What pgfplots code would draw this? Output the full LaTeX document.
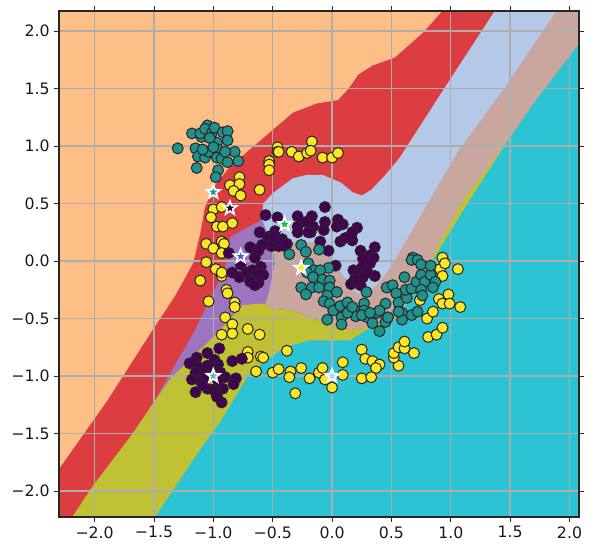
\documentclass[border=0pt]{standalone}
\usepackage{fontspec}
\setmainfont{DejaVu Sans}
\usepackage{pgfplots}
\pgfplotsset{compat=1.18}
\usepackage{pgfplotstable}

\definecolor{cOrange}{HTML}{FDBF85}
\definecolor{cRed}{HTML}{DC3D40}
\definecolor{cBlue}{HTML}{B4C8E8}
\definecolor{cPurple}{HTML}{9C74BF}
\definecolor{cPink}{HTML}{C9A69E}
\definecolor{cOlive}{HTML}{C1C136}
\definecolor{cCyan}{HTML}{2CC3D5}
\definecolor{vPurple}{HTML}{440154}
\definecolor{vTeal}{HTML}{21918C}
\definecolor{vYellow}{HTML}{FDE725}

\pgfdeclareplotmark{fstar}{%
  \pgfpathmoveto{\pgfpointpolar{90}{\pgfplotmarksize}}%
  \pgfpathlineto{\pgfpointpolar{126}{.42\pgfplotmarksize}}%
  \pgfpathlineto{\pgfpointpolar{162}{\pgfplotmarksize}}%
  \pgfpathlineto{\pgfpointpolar{198}{.42\pgfplotmarksize}}%
  \pgfpathlineto{\pgfpointpolar{234}{\pgfplotmarksize}}%
  \pgfpathlineto{\pgfpointpolar{270}{.42\pgfplotmarksize}}%
  \pgfpathlineto{\pgfpointpolar{306}{\pgfplotmarksize}}%
  \pgfpathlineto{\pgfpointpolar{342}{.42\pgfplotmarksize}}%
  \pgfpathlineto{\pgfpointpolar{18}{\pgfplotmarksize}}%
  \pgfpathlineto{\pgfpointpolar{54}{.42\pgfplotmarksize}}%
  \pgfpathclose
  \pgfusepathqfillstroke
}

\pgfplotstableread{
x y
-.46 .99
-.46 .95
-.45 .95
-.17 1.04
-.34 .95
-.28 .91
-.21 .94
-.18 .96
-.08 .90
0 .90
.05 .94
-.53 .87
-.53 .84
-.53 .79
-.78 .73
-.86 .66
-.78 .67
-.83 .61
-.77 .57
-.61 .62
-1.00 .45
-.93 .47
-1.02 .38
-.97 .30
-.92 .30
-.84 .33
-1.06 .15
-1.00 .11
-.93 .17
-.91 .15
-.93 .07
-1.06 -.01
-.98 -.07
-.93 -.13
-.93 -.10
-1.11 -.17
-.89 -.25
-.88 -.28
-1.04 -.35
-.82 -.36
-.82 -.40
-.90 -.49
-.84 -.55
-.93 -.64
-.84 -.63
-.71 -.59
-.61 -.64
-.71 -.79
-.71 -.84
-.60 -.83
-.58 -.84
-.38 -.78
-.64 -.96
-.50 -.97
-.45 -.94
-.35 -.96
-.36 -1.01
-.26 -.93
-.19 -1.02
-.11 -.97
-.08 -.93
-.06 -1.03
.09 -.88
.09 -.99
0 -1.10
-.31 -1.15
.25 -.77
.28 -.85
.34 -.87
.40 -.90
.37 -.93
.25 -1.02
.33 -1.01
.56 -.91
.52 -.84
.52 -.80
.56 -.75
.61 -.76
.61 -.70
.69 -.80
.81 -.66
.88 -.64
.93 -.58
.80 -.50
.85 -.44
.74 -.34
.90 -.33
.93 -.37
.98 -.29
.99 -.37
1.08 -.40
.91 -.07
.93 .03
.95 -.02
1.06 -.07
.93 -.13
.47 -.49
}\yellowpts

\pgfplotstableread{
x y
-.95 -.76
-1.05 -.80
-1.14 -.84
-1.20 -.89
-.84 -.87
-.76 -.85
-1.13 -.92
-1.05 -.91
-.99 -.86
-.96 -.90
-1.15 -.97
-1.09 -.97
-1.18 -1.03
-.90 -1.01
-.81 -1.02
-.83 -1.07
-1.11 -1.04
-1.07 -1.02
-1.00 -.95
-.94 -.97
-.96 -1.04
-1.05 -1.11
-1.15 -1.14
-1.00 -1.12
-.92 -1.11
-.97 -1.15
-.97 -1.18
-.93 -1.23
-1.09 -1.08
-.06 .47
-.56 .40
-.46 .38
-.29 .39
-.17 .39
-.22 .34
-.29 .30
-.29 .25
-.16 .30
-.18 .25
-.06 .34
-.07 .27
.05 .36
.04 .30
.09 .32
.21 .29
.17 .25
.07 .17
.17 .18
.11 .20
.36 .12
.24 .09
-.10 .17
-.03 .09
.03 -.04
.32 .05
.35 .03
.26 .02
.32 -.02
.36 -.13
.18 -.08
.25 -.06
.30 -.10
.21 -.12
.16 -.20
.24 -.21
.26 -.14
.19 -.16
-.48 .26
-.54 .21
-.61 .25
-.42 .19
-.50 .14
-.40 .13
-.62 .09
-.59 .14
-.65 .03
-.60 -.05
-.63 -.12
-.58 -.12
-.62 -.19
-.20 .25
-.87 .07
-.69 .12
-.63 .10
-.84 -.10
-.78 -.14
-.72 -.10
-.67 -.08
-.63 -.11
-.69 -.18
-.65 -.21
-.77 -.03
-.51 .13
-.45 .13
-.38 .15
-.49 .21
}\purplepts

\pgfplotstableread{
x y
-1.30 .98
-1.18 1.11
-1.10 1.08
-1.11 1.11
-1.05 1.18
-1.07 1.15
-1.01 1.12
-.99 1.16
-.92 1.12
-.88 1.13
-.88 1.05
-.97 1.03
-1.03 1.07
-1.15 .98
-1.13 .91
-1.07 .90
-1.04 .95
-.96 .97
-.97 .90
-.93 .89
-.88 .86
-.82 .95
-.79 .87
-1.14 .81
-.96 .79
-.98 .73
-1.09 .97
-1.00 .99
-.90 .95
-.26 .14
-.36 .06
-.22 .08
-.11 .10
-.20 -.02
-.03 -.06
-.15 -.08
-.10 -.08
-.21 -.10
-.16 -.14
-.08 -.16
-.02 -.17
-.26 -.23
-.17 -.23
-.11 -.23
-.22 -.29
-.02 -.23
.04 -.27
-.04 -.30
-.07 -.35
-.02 -.37
.01 -.43
.07 -.39
.13 -.36
.08 -.49
-.04 -.51
.08 -.55
.20 -.43
.20 -.48
.27 -.37
.27 -.43
.30 -.49
.38 -.45
.45 -.37
.34 -.54
.40 -.61
.45 -.53
.47 -.49
.29 -.27
.46 -.23
.51 -.21
.54 -.28
.56 -.36
.59 -.45
.59 -.51
.63 -.32
.62 -.25
.67 -.24
.67 -.47
.72 -.44
.61 -.14
.71 -.18
.75 -.12
.78 -.18
.83 -.12
.87 -.18
.75 -.25
.76 -.30
.85 -.23
.68 .03
.67 .01
.72 .01
.75 -.03
.83 -.04
.13 -.45
.17 -.40
.56 -.44
.25 -.47
.40 -.43
.32 -.45
}\tealpts

\begin{document}
\begin{tikzpicture}
\useasboundingbox (-44.25pt,-27.75pt) rectangle (399.75pt,387.75pt);
% decision regions, back to front
\begin{axis}[
  scale only axis, width=390pt, height=379.5pt,
  xmin=-2.3, xmax=2.08, ymin=-2.226, ymax=2.175,
  axis lines=none, clip=true,
  every axis plot/.append style={draw=none},
]
\addplot[fill=cOrange] coordinates {(-2.3,-2.226) (-2.3,2.175) (2.08,2.175) (2.08,-2.226)} -- cycle;
\addplot[fill=cRed] coordinates {(-2.30,-1.81) (-1.89,-1.21) (-1.53,-.63) (-1.32,-.30) (-1.17,-.02) (-1.11,.24) (-1.07,.47) (-1.00,.64) (-.86,.82) (-.67,.99) (-.50,1.14) (-.33,1.29) (-.13,1.37) (.05,1.40) (.14,1.50) (.22,1.62) (.34,1.70) (.53,1.77) (.77,1.99) (.93,2.175) (2.08,2.175) (2.08,-2.226) (-2.3,-2.226)} -- cycle;
\addplot[fill=cBlue] coordinates {(-.59,.38) (-.58,.50) (-.50,.59) (-.33,.72) (-.21,.75) (-.08,.75) (.08,.68) (.17,.60) (.25,.57) (.33,.62) (.45,.75) (.57,.90) (.95,1.51) (1.37,2.175) (2.08,2.175) (2.08,-.34) (-.59,-.34)} -- cycle;
\addplot[fill=cPurple] coordinates {(-1.49,-1.21) (-1.36,-.97) (-1.17,-.63) (-.99,-.25) (-.90,-.05) (-.86,.21) (-.59,.36) (-.50,.12) (-.48,-.02) (-.54,-.31) (-.56,-.37) (-.75,-.38) (-1.03,-.69)} -- cycle;
\addplot[fill=cPink] coordinates {(1.89,2.175) (2.08,2.175) (2.08,1.89) (1.69,1.36) (1.47,1.04) (1.20,.66) (1.09,.51) (.85,.05) (.68,-.37) (.57,-.45) (.29,-.58) (.15,-.60) (-.08,-.53) (-.35,-.43) (-.52,-.41) (-.56,-.37) (-.54,-.31) (-.48,-.02) (-.50,.12) (-.37,.16) (-.29,.17) (-.14,.16) (0,.03) (.07,-.10) (.21,-.28) (.28,-.30) (.32,-.25) (.40,-.19) (.49,-.06) (.57,.08) (.81,.51) (1.06,.95) (1.47,1.53)} -- cycle;
\addplot[fill=cOlive] coordinates {(-2.19,-2.226) (-2.01,-1.95) (-1.68,-1.50) (-1.49,-1.21) (-1.36,-1.02) (-1.03,-.69) (-.75,-.38) (-.56,-.37) (-.52,-.41) (-.35,-.43) (-.08,-.53) (.15,-.60) (.29,-.58) (.57,-.45) (.68,-.37) (.85,.05) (1.09,.51) (1.20,.66) (1.47,1.04) (1.69,1.36) (2.08,1.89) (2.08,-2.226)} -- cycle;
\addplot[fill=cCyan] coordinates {(-1.49,-2.226) (-1.11,-1.64) (-.93,-1.38) (-.69,-.97) (-.52,-.84) (-.40,-.75) (-.19,-.69) (.15,-.69) (.32,-.58) (.51,-.53) (.68,-.31) (.85,.01) (1.16,.53) (1.47,1.03) (1.69,1.36) (2.08,1.89) (2.08,-2.226)} -- cycle;
\end{axis}
% grid, frame, ticks and samples
\begin{axis}[
  scale only axis, width=390pt, height=379.5pt,
  xmin=-2.3, xmax=2.08, ymin=-2.226, ymax=2.175,
  axis background/.style={fill=none},
  axis line style={draw=black!85, line width=.9pt},
  grid=major, grid style={color=black!32, line width=1pt},
  tick align=outside, major tick length=3.5pt,
  tick style={color=black!85, line width=.6pt},
  xtick={-2,-1.5,-1,-.5,0,.5,1,1.5,2},
  ytick={-2,-1.5,-1,-.5,0,.5,1,1.5,2},
  xticklabels={−2.0,−1.5,−1.0,−0.5,0.0,0.5,1.0,1.5,2.0},
  yticklabels={−2.0,−1.5,−1.0,−0.5,0.0,0.5,1.0,1.5,2.0},
  tick label style={font=\fontsize{11.8pt}{13pt}\selectfont, color=black!90},
  clip=true,
]
\addplot[only marks, mark=*, mark size=4.1pt, mark options={fill=vYellow, draw=black!85, line width=.75pt}] table[x=x,y=y] {\yellowpts};
\addplot[only marks, mark=*, mark size=4.1pt, mark options={fill=vPurple, draw=black!85, line width=.75pt}] table[x=x,y=y] {\purplepts};
\addplot[only marks, mark=*, mark size=4.1pt, mark options={fill=vTeal, draw=black!85, line width=.75pt}] table[x=x,y=y] {\tealpts};
% centroids
\addplot[only marks, mark=fstar, mark size=5.3pt, mark options={fill=vPurple!70!black, draw=white, line width=1.3pt}] coordinates {(-.86,.46)};
\addplot[only marks, mark=fstar, mark size=5.3pt, mark options={fill=teal!70!cyan, draw=white, line width=1.3pt}] coordinates {(-1.0,.60)};
\addplot[only marks, mark=fstar, mark size=5.3pt, mark options={fill=green!55!teal, draw=white, line width=1.3pt}] coordinates {(-.40,.32)};
\addplot[only marks, mark=fstar, mark size=5.3pt, mark options={fill=blue!50!teal!80!white, draw=white, line width=1.3pt}] coordinates {(-.77,.04)};
\addplot[only marks, mark=fstar, mark size=5.3pt, mark options={fill=vYellow, draw=white, line width=1.3pt}] coordinates {(-.26,-.06)};
\addplot[only marks, mark=fstar, mark size=5.3pt, mark options={fill=teal!60!white, draw=white, line width=1.3pt}] coordinates {(-1.0,-1.0)};
\addplot[only marks, mark=fstar, mark size=5.3pt, mark options={fill=cyan!40!white, draw=white, line width=1.3pt}] coordinates {(0,-1.0)};
\end{axis}
\end{tikzpicture}
\end{document}
